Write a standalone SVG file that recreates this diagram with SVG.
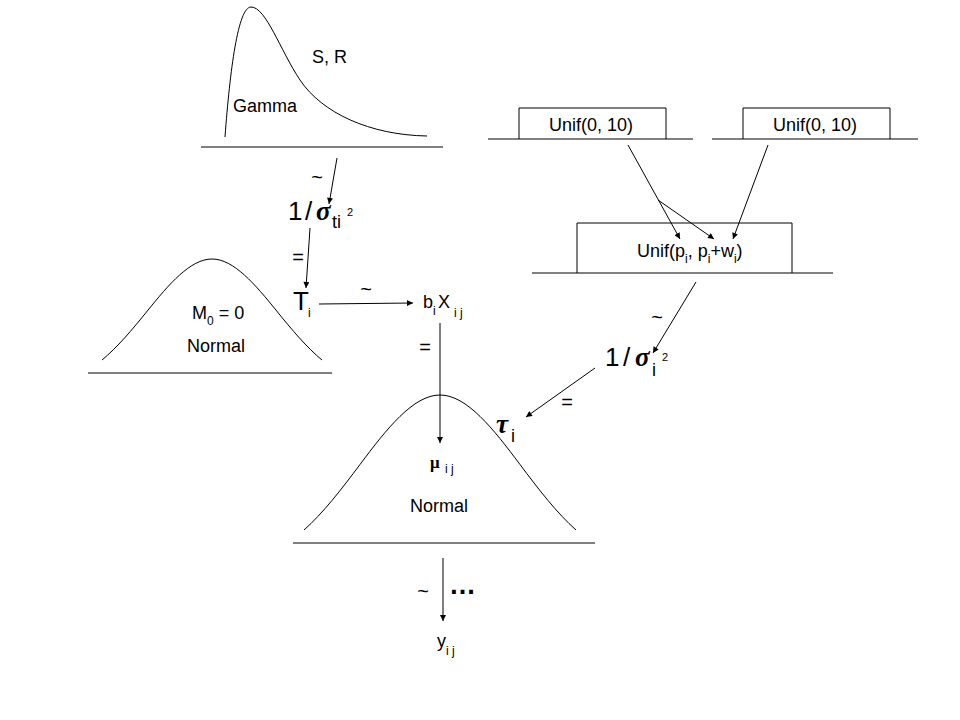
<svg xmlns="http://www.w3.org/2000/svg" width="960" height="720" viewBox="0 0 960 720">
<style>
  .ln { stroke: #000; stroke-width: 1; fill: none; }
  .t { font-family: "Liberation Sans", Arial, sans-serif; font-size: 18px; fill: #000; }
  .big { font-family: "Liberation Sans", Arial, sans-serif; font-size: 26px; fill: #000; }
  .sub { font-family: "Liberation Sans", Arial, sans-serif; font-size: 12px; fill: #000; }
  .sup { font-family: "Liberation Sans", Arial, sans-serif; font-size: 11px; fill: #000; }
  .greek { font-family: "Liberation Serif", "Times New Roman", serif; font-size: 27px; font-weight: bold; font-style: italic; fill: #000; }
  .mu { font-family: "Liberation Serif", "Times New Roman", serif; font-size: 17px; font-weight: bold; fill: #000; }
  .op { font-family: "Liberation Sans", Arial, sans-serif; font-size: 20px; fill: #000; text-anchor: middle; }
</style>
<defs>
  <marker id="arr" viewBox="0 0 10 10" refX="10" refY="5" markerWidth="8" markerHeight="6" markerUnits="userSpaceOnUse" orient="auto">
    <path d="M0,0 L10,5 L0,10 z" fill="#000"/>
  </marker>
</defs>
<rect width="960" height="720" fill="#fff"/>

<g id="gamma">
  <path class="ln" d="M225,137 C230,70 238,7 251,7 C266,7 280,50 300,80 C322,113 370,135 427,136"/>
  <line class="ln" x1="201" y1="147" x2="443" y2="147"/>
  <text class="t" x="312" y="63">S, R</text>
  <text class="t" x="233" y="112">Gamma</text>
</g>

<g id="unif-left">
  <path class="ln" d="M519,139 V108 H666 V139"/>
  <line class="ln" x1="488" y1="139" x2="693" y2="139"/>
  <text class="t" x="591" y="131" text-anchor="middle">Unif(0, 10)</text>
</g>

<g id="unif-right">
  <path class="ln" d="M743,139 V108 H890 V139"/>
  <line class="ln" x1="712" y1="139" x2="918" y2="139"/>
  <text class="t" x="815" y="131" text-anchor="middle">Unif(0, 10)</text>
</g>

<g id="unif-p">
  <path class="ln" d="M577,273 V223 H792 V273"/>
  <line class="ln" x1="532" y1="273" x2="833" y2="273"/>
  <text class="t" x="637" y="257">Unif(p<tspan class="sub" dy="6">i</tspan><tspan dy="-6">, p</tspan><tspan class="sub" dy="6">i</tspan><tspan dy="-6">+w</tspan><tspan class="sub" dy="6">i</tspan><tspan dy="-6">)</tspan></text>
</g>

<g id="sigma-t">
  <text class="big" x="288" y="220">1</text>
  <text class="big" x="305" y="220">/</text>
  <text class="greek" x="316" y="220">σ</text>
  <text class="t" x="332" y="228">ti</text>
  <text class="sup" x="347" y="216">2</text>
</g>

<g id="T">
  <text class="big" x="293" y="310">T</text>
  <text class="sub" x="308" y="317">i</text>
</g>

<g id="normal-left">
  <path class="ln" d="M102,360 C117.1,347.64 132.2,329.7 147.29,311 C168.87,284.28 190.43,259 212,259 C233.57,259 255.13,284.28 276.71,311 C291.8,329.7 306.9,347.64 322,360"/>
  <line class="ln" x1="88" y1="373" x2="332" y2="373"/>
  <text class="t" x="192" y="319">M<tspan class="sub" dy="6">0</tspan><tspan dy="-6"> = 0</tspan></text>
  <text class="t" x="187" y="352">Normal</text>
</g>

<g id="bX">
  <text class="t" x="423" y="308">b</text>
  <text class="sub" x="433" y="315">i</text>
  <text class="t" x="438" y="308">X</text>
  <text class="sub" x="454" y="317">i j</text>
</g>

<g id="sigma-i">
  <text class="big" x="605" y="366">1</text>
  <text class="big" x="623" y="366">/</text>
  <text class="greek" x="635" y="366">σ</text>
  <text class="t" x="652" y="376">i</text>
  <text class="sup" x="662" y="361">2</text>
</g>

<g id="tau">
  <text class="greek" x="496" y="433">τ</text>
  <text class="t" x="511" y="442">i</text>
</g>

<g id="normal-main">
  <path class="ln" d="M304,530 C322.67,513.5 341.33,489.5 360,464.5 C386.67,428.8 413.33,395 440,395 C466.67,395 493.33,428.8 520,464.5 C538.67,489.5 557.33,513.5 576,530"/>
  <line class="ln" x1="293" y1="543" x2="595" y2="543"/>
  <text class="mu" x="430" y="468">μ</text>
  <text class="sub" x="445" y="473">i j</text>
  <text class="t" x="410" y="512">Normal</text>
</g>

<g id="y">
  <text class="t" x="437" y="647">y</text>
  <text class="sub" x="446" y="655">i j</text>
  <text x="449" y="594" style="font-family:'Liberation Sans',Arial,sans-serif;font-size:27px;font-weight:bold">…</text>
</g>

<g id="connectors">
  <line class="ln" x1="337" y1="158" x2="329" y2="204" marker-end="url(#arr)"/>
  <line class="ln" x1="310" y1="228" x2="306" y2="288" marker-end="url(#arr)"/>
  <line class="ln" x1="319" y1="304" x2="413" y2="303" marker-end="url(#arr)"/>
  <line class="ln" x1="440" y1="323" x2="440" y2="443" marker-end="url(#arr)"/>
  <line class="ln" x1="628" y1="145" x2="680" y2="239" marker-end="url(#arr)"/>
  <line class="ln" x1="658" y1="200" x2="714" y2="239" marker-end="url(#arr)"/>
  <line class="ln" x1="768" y1="145" x2="733" y2="239" marker-end="url(#arr)"/>
  <line class="ln" x1="696" y1="282" x2="653" y2="353" marker-end="url(#arr)"/>
  <line class="ln" x1="595" y1="368" x2="526" y2="417" marker-end="url(#arr)"/>
  <line class="ln" x1="443" y1="558" x2="443" y2="621" marker-end="url(#arr)"/>
  <text class="op" x="317" y="184">~</text>
  <text class="op" x="298" y="264">=</text>
  <text class="op" x="366" y="296">~</text>
  <text class="op" x="425" y="354">=</text>
  <text class="op" x="657" y="324">~</text>
  <text class="op" x="567" y="409">=</text>
  <text class="op" x="423" y="598">~</text>
</g>
</svg>
